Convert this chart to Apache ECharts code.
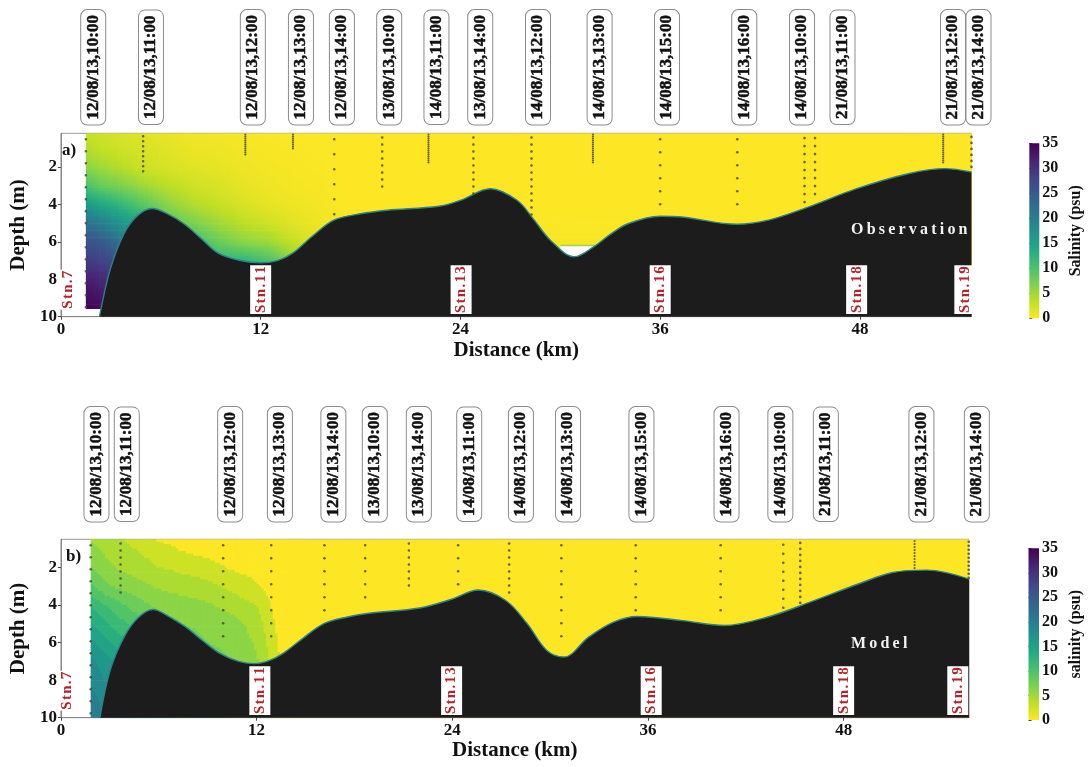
<!DOCTYPE html>
<html><head><meta charset="utf-8">
<script src="https://cdn.jsdelivr.net/npm/echarts@6/dist/echarts.min.js"></script>
<style>html,body{margin:0;padding:0;background:#fff}#c{width:1091px;height:767px}</style>
</head><body><div id="c"></div>
<script>
// ================= DATA =================
const xTicks = [0, 12, 24, 36, 48];
const depthTicks = [2, 4, 6, 8, 10];

// --- (a) Observation ---
const obsTimeLabels = ["12/08/13,10:00","12/08/13,11:00","12/08/13,12:00","12/08/13,13:00","12/08/13,14:00","13/08/13,10:00","14/08/13,11:00","13/08/13,14:00","14/08/13,12:00","14/08/13,13:00","14/08/13,15:00","14/08/13,16:00","14/08/13,10:00","21/08/13,11:00","21/08/13,12:00","21/08/13,14:00"];
const obsTimeKm = [1.94, 5.41, 11.53, 14.42, 16.88, 19.72, 22.56, 25.19, 28.66, 32.36, 36.41, 41.05, 44.52, 46.95, 53.59, 55.12];
const obsStnKm = [1.5, 4.94, 11.08, 13.94, 16.42, 19.3, 22.08, 24.78, 28.27, 31.96, 36.0, 40.63, 44.67, 45.3, 53.0, 54.7];
const obsStnBottom = [9.5, 2.44, 1.43, 1.08, 4.84, 3.24, 1.82, 3.69, 4.9, 1.82, 4.49, 4.04, 4.22, 3.87, 1.82, 2.18];
const obsBathKm = [2.32, 2.95, 3.79, 4.6, 5.47, 6.4, 7.37, 8.4, 9.47, 10.8, 12, 13.0, 13.9, 15.1, 16.4, 18, 19.6, 22.7, 24, 25.8, 27.4, 28.4, 29.4, 30.84, 32, 33, 34.1, 36, 37.3, 40.6, 42.5, 44.8, 47.8, 50.9, 53.1, 54.7];
const obsBathDepth = [10, 7.51, 5.56, 4.6, 4.22, 4.5, 5.02, 5.8, 6.62, 7.0, 7.12, 7.0, 6.62, 5.7, 4.84, 4.5, 4.31, 4.1, 3.78, 3.16, 3.78, 4.8, 5.91, 6.8, 6.27, 5.6, 5.02, 4.63, 4.67, 5.06, 4.84, 4.17, 3.16, 2.36, 2.09, 2.27];
const obsFieldKm = [1.5, 2.5, 3.5, 5, 6.5, 8, 9.5, 11, 12.5, 14, 15.5, 17, 54.7];
const obsFieldDepth = [0.2, 1, 2, 3, 4, 5, 6, 7, 8, 9, 9.55];
const obsSalinity = [ // one row per km column, values down the depths
  [3, 4, 6, 10, 16, 22, 26, 29, 32, 34, 35],
  [2.5, 3, 5, 8, 14, 20, 25, 28, 31, 33, 34],
  [2, 2.5, 4, 7, 12, 17, 22, 26, 29, 31, 32],
  [1.5, 2, 2.5, 5, 9, 14, 18, 22, 25, 27, 28],
  [1, 1.5, 2, 3.5, 6, 9, 13, 16, 18, 20, 20],
  [0.5, 1, 1.5, 2.5, 4, 7, 11, 14, 16, 17, 17],
  [0.5, 0.8, 1.2, 2, 3, 5, 8, 12, 14, 15, 15],
  [0.3, 0.5, 0.8, 1.2, 2, 3.5, 6, 12, 14, 15, 15],
  [0.2, 0.3, 0.5, 0.8, 1.2, 2.5, 5, 10, 12, 13, 13],
  [0.1, 0.2, 0.3, 0.5, 0.8, 1.5, 3, 6, 8, 9, 9],
  [0, 0.1, 0.2, 0.3, 0.5, 0.8, 1.5, 3, 4, 5, 5],
  [0, 0, 0, 0, 0, 0.2, 0.5, 1, 1.5, 2, 2],
  [0, 0, 0, 0, 0, 0, 0, 0, 0, 0, 0]
];
const obsGapKm = [30.0, 32.4];
const obsGapDepth = [6.2, 7.6];

// --- (b) Model ---
const modelTimeLabels = ["12/08/13,10:00","12/08/13,11:00","12/08/13,12:00","12/08/13,13:00","12/08/13,14:00","13/08/13,10:00","13/08/13,14:00","14/08/13,11:00","14/08/13,12:00","14/08/13,13:00","14/08/13,15:00","14/08/13,16:00","14/08/13,10:00","21/08/13,11:00","21/08/13,12:00","21/08/13,14:00"];
const modelTimeKm = [2.18, 4.04, 10.38, 13.43, 16.71, 19.25, 21.95, 25.04, 28.21, 31.1, 35.6, 40.82, 44.12, 46.91, 52.77, 56.17];
const modelStnKm = [1.83, 3.66, 9.95, 12.9, 16.16, 18.66, 21.34, 24.36, 27.49, 30.69, 35.25, 40.46, 44.3, 45.34, 52.35, 55.67];
const modelStnBottom = [10, 3.33, 6.06, 6.28, 4.56, 3.98, 3.24, 3.33, 3.33, 6.2, 4.56, 4.74, 4.21, 3.94, 2.09, 2.62];
const modelBathKm = [2.39, 3.02, 3.87, 4.7, 5.66, 6.6, 7.67, 8.7, 9.78, 10.9, 11.9, 12.8, 13.6, 14.8, 16.1, 17.5, 18.9, 22.0, 24, 25.6, 27.3, 28.6, 29.8, 30.86, 32.36, 33.86, 35.36, 38.1, 40.7, 43.3, 45.9, 48.9, 51, 53.1, 55.7];
const modelBathDepth = [10, 7.48, 5.71, 4.7, 4.24, 4.6, 5.18, 5.9, 6.59, 7.0, 7.12, 6.95, 6.59, 5.8, 5.0, 4.65, 4.44, 4.16, 3.68, 3.2, 3.77, 5.0, 6.42, 6.77, 5.71, 4.92, 4.61, 4.83, 5.09, 4.65, 3.86, 2.88, 2.27, 2.14, 2.62];
const modelFieldKm = [1.83, 3, 4.5, 6, 7.5, 9, 10.5, 12, 13, 14, 55.7];
const modelFieldDepth = [0.5, 1, 2, 3, 4, 5, 6, 7, 8, 9, 10];
const modelSalinity = [
  [5, 6, 7, 9, 12, 14, 16, 18, 19, 20, 21],
  [4, 4.5, 5.5, 7, 10, 12, 14, 16, 17, 18, 19],
  [3, 3.5, 4.5, 6, 8, 10, 12, 14, 15, 16, 16],
  [1.5, 2.5, 3.5, 5, 6.5, 8, 10, 11, 12, 13, 13],
  [1, 1.5, 3, 4.5, 6, 7, 8, 9, 10, 10, 10],
  [0.5, 1, 2.5, 4, 5.5, 6.5, 7, 8, 8, 8, 8],
  [0.3, 0.6, 1.5, 3, 4.5, 6, 6.5, 7, 7, 7, 7],
  [0.2, 0.4, 1, 2, 3.5, 4.5, 5, 5.5, 5.5, 5.5, 5.5],
  [0, 0.2, 0.5, 1, 1.5, 2, 2.5, 3, 3, 3, 3],
  [0, 0, 0, 0, 0, 0, 0, 0, 0, 0, 0],
  [0, 0, 0, 0, 0, 0, 0, 0, 0, 0, 0]
];

const stnNames = ["Stn.7", "Stn.11", "Stn.13", "Stn.16", "Stn.18", "Stn.19"];
const obsStnNameKm = [0.46, 12, 24.04, 36, 47.8, 54.3];
const modelStnNameKm = [0.4, 12.2, 23.96, 36.2, 48, 55.0];

// ================= STYLE =================
const SERIF = '"Liberation Serif","Times New Roman",serif';
const obsDotStep = [12, 5, 2, 2, 15, 7, 2, 7, 7, 2, 13, 13, 8, 8, 2, 6];
const modelDotStep = [12, 7, 13, 13, 13, 13, 7, 13, 7, 13, 13, 13, 9, 6, 3, 4];
const VIRIDIS = ['#440154','#482475','#414487','#355f8d','#2a788e','#21918c','#22a884','#44bf70','#7ad151','#bddf26','#fde725'];
const VIR = VIRIDIS.map(h => [parseInt(h.slice(1,3),16), parseInt(h.slice(3,5),16), parseInt(h.slice(5,7),16)]);
function salColor(v) {
  const t = 1 - Math.max(0, Math.min(35, v)) / 35;
  const f = t * 10, k = Math.min(9, Math.floor(f)), u = f - k;
  const a = VIR[k], b = VIR[k + 1];
  return 'rgb(' + Math.round(a[0] + (b[0] - a[0]) * u) + ',' + Math.round(a[1] + (b[1] - a[1]) * u) + ',' + Math.round(a[2] + (b[2] - a[2]) * u) + ')';
}
function quantize(v) { const l = Math.floor(v / 1.75); return l === 0 ? 0 : (l + 0.5) * 1.75; }
const spaced = (s, sp) => s.split('').join(sp);

function fieldSeries(gi, kms, depths, table, quant) {
  const data = [];
  for (let i = 0; i < kms.length - 1; i++) for (let j = 0; j < depths.length - 1; j++) data.push([i, j]);
  const col = v => salColor(quant ? quantize(v) : v);
  return {
    type: 'custom', xAxisIndex: gi, yAxisIndex: gi, z: 1, silent: true, clip: true, data,
    renderItem(params, api) {
      const i = api.value(0), j = api.value(1);
      const v00 = table[i][j], v10 = table[i + 1][j], v01 = table[i][j + 1], v11 = table[i + 1][j + 1];
      const p0 = api.coord([kms[i], depths[j]]), p1 = api.coord([kms[i + 1], depths[j + 1]]);
      const W = p1[0] - p0[0], H = p1[1] - p0[1];
      if (v00 === v10 && v00 === v01 && v00 === v11) {
        return { type: 'rect', shape: { x: p0[0], y: p0[1], width: W + 0.7, height: H + 0.7 }, style: { fill: col(v00) } };
      }
      const nx = Math.max(1, Math.ceil(W / 2.5)), ny = Math.max(1, Math.ceil(H / 2.5));
      const children = [];
      for (let a = 0; a < nx; a++) for (let b = 0; b < ny; b++) {
        const u = (a + 0.5) / nx, w = (b + 0.5) / ny;
        const v = v00 * (1 - u) * (1 - w) + v10 * u * (1 - w) + v01 * (1 - u) * w + v11 * u * w;
        children.push({ type: 'rect', shape: { x: p0[0] + W * a / nx, y: p0[1] + H * b / ny, width: W / nx + 0.7, height: H / ny + 0.7 }, style: { fill: col(v) } });
      }
      return { type: 'group', children };
    }
  };
}
function bathSeries(gi, kms, depths) {
  return {
    type: 'line', xAxisIndex: gi, yAxisIndex: gi, z: 3, silent: true, smooth: 0.35, symbol: 'none',
    data: kms.map((k, i) => [k, depths[i]]),
    lineStyle: { color: '#2f7f8c', width: 1.4 },
    areaStyle: { color: '#1c1c1c', opacity: 1, origin: 'end' }
  };
}
function dotSeries(gi, kms, bottoms, steps, topDepth) {
  return {
    type: 'custom', xAxisIndex: gi, yAxisIndex: gi, z: 4, silent: true,
    data: kms.map((k, i) => [k, bottoms[i], i]),
    renderItem(params, api) {
      const i = api.value(2);
      const top = api.coord([api.value(0), topDepth]), bot = api.coord([api.value(0), api.value(1)]);
      const st = steps[i], children = [];
      for (let y = top[1] + Math.min(st * 0.6, 6); y <= bot[1] + 0.1; y += st) {
        children.push({ type: 'circle', shape: { cx: top[0], cy: y, r: st <= 3 ? 1.1 : 1.3 }, style: { fill: 'rgba(75,75,55,0.85)' } });
      }
      return { type: 'group', children };
    }
  };
}
function timeLabelSeries(gi, kms, labels, topDepth, offset) {
  return {
    type: 'custom', xAxisIndex: gi, yAxisIndex: gi, z: 6, silent: true, clip: false,
    data: kms.map((k, i) => [k, i]),
    renderItem(params, api) {
      const p = api.coord([api.value(0), topDepth]);
      return { type: 'text', x: p[0], y: p[1] - offset, rotation: Math.PI / 2,
        style: { text: labels[api.value(1)], fill: '#111', font: 'bold 17px ' + SERIF,
          stroke: '#111', lineWidth: 0.5,
          align: 'center', verticalAlign: 'middle', lineHeight: 18, backgroundColor: '#fff',
          borderColor: '#8c8c8c', borderWidth: 1, borderRadius: 6, padding: [3, 5] } };
    }
  };
}
function stnNameSeries(gi, kms) {
  return {
    type: 'custom', xAxisIndex: gi, yAxisIndex: gi, z: 6, silent: true, clip: false,
    data: kms.map((k, i) => [k, i]),
    renderItem(params, api) {
      const p = api.coord([api.value(0), 10]);
      return { type: 'text', x: p[0], y: p[1] - 27, rotation: Math.PI / 2,
        style: { text: spaced(stnNames[api.value(1)], '\u200A'), fill: '#b5222b', font: 'bold 15px ' + SERIF,
          align: 'center', verticalAlign: 'middle', lineHeight: 15, backgroundColor: '#fff', padding: [3, 1] } };
    }
  };
}
function gapSeries(gi) {
  return {
    type: 'custom', xAxisIndex: gi, yAxisIndex: gi, z: 2, silent: true, data: [[0]],
    renderItem(params, api) {
      const a = api.coord([obsGapKm[0], obsGapDepth[0]]), b = api.coord([obsGapKm[1], obsGapDepth[1]]);
      return { type: 'group', children: [
        { type: 'rect', shape: { x: a[0], y: a[1], width: b[0] - a[0], height: b[1] - a[1] }, style: { fill: '#fff' } },
        { type: 'line', shape: { x1: a[0], y1: a[1], x2: b[0], y2: a[1] }, style: { stroke: '#9fd25a', lineWidth: 1.5 } }
      ] };
    }
  };
}
function colorbarSeries(gi) {
  return {
    type: 'custom', xAxisIndex: gi, yAxisIndex: gi, silent: true, data: [[0]],
    renderItem(params, api) {
      const p0 = api.coord([0, 35]), p1 = api.coord([1, 0]);
      const stops = VIRIDIS.map((c, k) => ({ offset: k / 10, color: c }));
      return { type: 'rect', shape: { x: p0[0], y: p0[1], width: p1[0] - p0[0], height: p1[1] - p0[1] },
        style: { fill: new echarts.graphic.LinearGradient(0, 0, 0, 1, stops) } };
    }
  };
}

const boldTxt = (size) => ({ fontFamily: SERIF, fontWeight: 'bold', fontSize: size, color: '#111' });
function xAxisCfg(gi, max, gap) {
  return { type: 'value', gridIndex: gi, min: 0, max,
    axisLine: { show: true, lineStyle: { color: '#888' } },
    axisTick: { show: true, length: 3, customValues: xTicks, lineStyle: { color: '#444' } },
    axisLabel: Object.assign({ customValues: xTicks, margin: 4 }, boldTxt(17)),
    splitLine: { show: false },
    name: 'Distance (km)', nameLocation: 'middle', nameGap: gap, nameTextStyle: boldTxt(21) };
}
function yAxisCfg(gi, min) {
  return { type: 'value', gridIndex: gi, min, max: 10, inverse: true,
    axisLine: { show: true, lineStyle: { color: '#888' } },
    axisTick: { show: true, length: 3, customValues: depthTicks, lineStyle: { color: '#444' } },
    axisLabel: Object.assign({ customValues: depthTicks, margin: 4 }, boldTxt(17)),
    splitLine: { show: false },
    name: 'Depth (m)', nameLocation: 'middle', nameGap: 18, nameRotate: 90, nameTextStyle: boldTxt(21) };
}
function cbYAxis(gi, name) {
  return { type: 'value', gridIndex: gi, min: 0, max: 35, interval: 5, position: 'right',
    axisLine: { show: false }, axisTick: { show: true, length: 3, lineStyle: { color: '#444' } },
    axisLabel: Object.assign({ margin: 3 }, boldTxt(16)), splitLine: { show: false },
    name, nameLocation: 'middle', nameGap: 29, nameRotate: 90, nameTextStyle: boldTxt(16) };
}

const chart = echarts.init(document.getElementById('c'), null, { renderer: 'canvas', width: 1091, height: 767 });
chart.setOption({
  animation: false,
  backgroundColor: '#fff',
  grid: [
    { left: 59.6, top: 133.3, width: 911.9, height: 183.4, show: true, borderColor: '#999', borderWidth: 1 },
    { left: 57.3, top: 539.3, width: 911.4, height: 178.4, show: true, borderColor: '#999', borderWidth: 1 },
    { left: 1029.3, top: 143.3, width: 10, height: 175 },
    { left: 1028.5, top: 548.3, width: 10.5, height: 171.7 }
  ],
  xAxis: [
    xAxisCfg(0, 54.7, 23), xAxisCfg(1, 55.67, 22),
    { type: 'value', gridIndex: 2, min: 0, max: 1, show: false },
    { type: 'value', gridIndex: 3, min: 0, max: 1, show: false }
  ],
  yAxis: [ yAxisCfg(0, 0.2), yAxisCfg(1, 0.5), cbYAxis(2, 'Salinity (psu)'), cbYAxis(3, 'salinity (psu)') ],
  graphic: [
    { type: 'text', left: 62, top: 142, style: { text: 'a)', fill: '#111', font: 'bold 17px ' + SERIF } },
    { type: 'text', left: 66, top: 548, style: { text: 'b)', fill: '#111', font: 'bold 17px ' + SERIF } },
    { type: 'text', left: 851, top: 222, z: 10, style: { text: spaced('Observation', '\u2009'), fill: '#f2f2f2', font: 'bold 16px ' + SERIF } },
    { type: 'text', left: 851, top: 636, z: 10, style: { text: spaced('Model', '\u2009'), fill: '#f2f2f2', font: 'bold 16px ' + SERIF } }
  ],
  series: [
    fieldSeries(0, obsFieldKm, obsFieldDepth, obsSalinity, false),
    gapSeries(0),
    bathSeries(0, obsBathKm, obsBathDepth),
    dotSeries(0, obsStnKm, obsStnBottom, obsDotStep, 0.2),
    timeLabelSeries(0, obsTimeKm, obsTimeLabels, 0.2, 66),
    stnNameSeries(0, obsStnNameKm),
    fieldSeries(1, modelFieldKm, modelFieldDepth, modelSalinity, true),
    bathSeries(1, modelBathKm, modelBathDepth),
    dotSeries(1, modelStnKm, modelStnBottom, modelDotStep, 0.5),
    timeLabelSeries(1, modelTimeKm, modelTimeLabels, 0.5, 75),
    stnNameSeries(1, modelStnNameKm),
    colorbarSeries(2),
    colorbarSeries(3)
  ]
});
</script></body></html>
